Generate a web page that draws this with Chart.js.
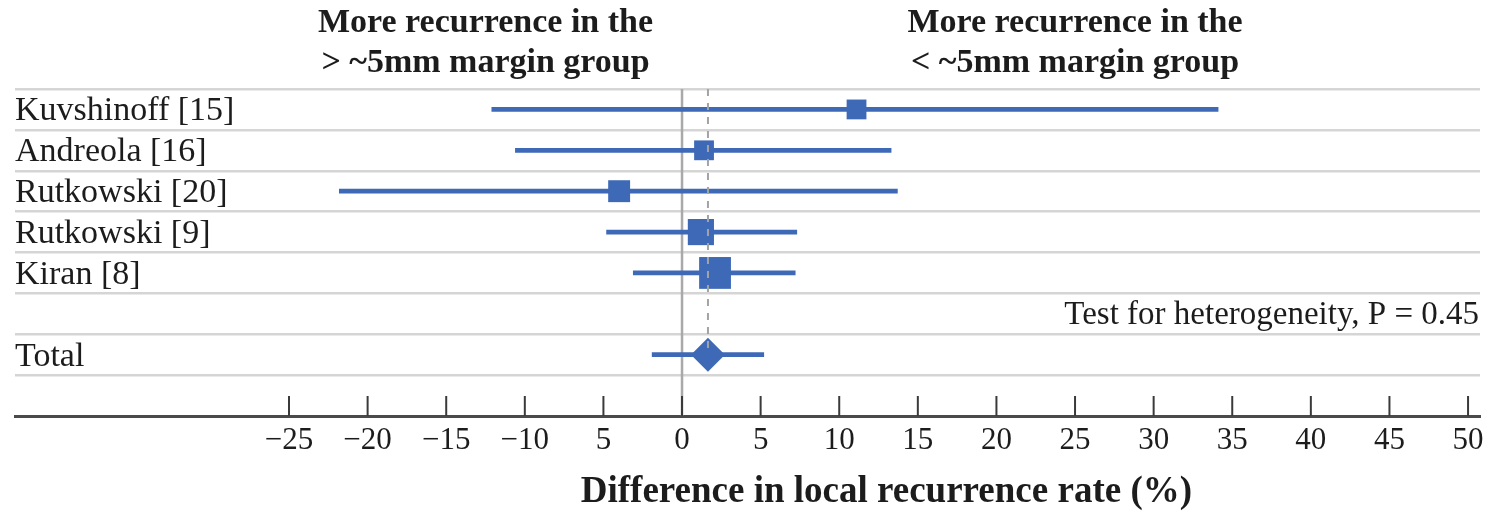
<!DOCTYPE html>
<html>
<head>
<meta charset="utf-8">
<script src="https://cdn.jsdelivr.net/npm/chart.js@4.4.1/dist/chart.umd.min.js"></script>
<style>
  html, body { margin: 0; padding: 0; background: #fff; }
  #wrap { width: 1494px; height: 516px; }
</style>
</head>
<body>
<div id="wrap"><canvas id="forest"></canvas></div>
<script>
// rows of the forest plot, top to bottom (last row left blank above the axis)
const row_labels = ["Kuvshinoff [15]", "Andreola [16]", "Rutkowski [20]", "Rutkowski [9]", "Kiran [8]", "", "Total", " "];
const note_labels = ["", "", "", "", "", "Test for heterogeneity, P = 0.45", "", ""];

// difference in local recurrence rate (%)
const estimates = [11.1, 1.4, -4.0, 1.2, 2.1, null, 1.65, null];
const ci_low    = [-12.1, -10.6, -21.8, -4.8, -3.1, null, -1.9, null];
const ci_high   = [34.1, 13.3, 13.7, 7.3, 7.2, null, 5.2, null];

const tick_values = [-25, -20, -15, -10, -5, 0, 5, 10, 15, 20, 25, 30, 35, 40, 45, 50];
const tick_labels = ["\u221225", "\u221220", "\u221215", "\u221210", "5", "0", "5", "10", "15", "20", "25", "30", "35", "40", "45", "50"];

const pooled = estimates[6];

const blue = "#3d69b6";
const serif = "'Liberation Serif', 'Times New Roman', serif";
const text_colour = "#1c1c1c";

// zero line behind the marks, dashed pooled line + upward ticks + headings on top
const forestExtras = {
  id: "forestExtras",
  beforeDatasetsDraw(chart) {
    const {ctx, chartArea, scales: {x}} = chart;
    const x0 = x.getPixelForValue(0);
    ctx.save();
    ctx.strokeStyle = "#a9a9a9";
    ctx.lineWidth = 2.5;
    ctx.beginPath();
    ctx.moveTo(x0, chartArea.top);
    ctx.lineTo(x0, chartArea.bottom);
    ctx.stroke();
    ctx.restore();
  },
  afterDraw(chart) {
    const {ctx, chartArea, scales: {x, y}} = chart;
    ctx.save();

    // dashed line at the pooled estimate
    const xp = x.getPixelForValue(pooled);
    ctx.strokeStyle = "#a3a3a3";
    ctx.lineWidth = 2;
    ctx.setLineDash([7, 7]);
    ctx.beginPath();
    ctx.moveTo(xp, chartArea.top);
    ctx.lineTo(xp, y.getPixelForValue(6));
    ctx.stroke();
    ctx.setLineDash([]);

    // tick marks pointing up from the axis
    ctx.strokeStyle = "#3a3a3a";
    ctx.lineWidth = 2;
    tick_values.forEach(v => {
      const px = x.getPixelForValue(v);
      ctx.beginPath();
      ctx.moveTo(px, chartArea.bottom);
      ctx.lineTo(px, chartArea.bottom - 20);
      ctx.stroke();
    });

    // group headings
    ctx.fillStyle = text_colour;
    ctx.font = "bold 34px " + serif;
    ctx.textAlign = "center";
    ctx.textBaseline = "middle";
    const left_c = x.getPixelForValue(-12.5);
    const right_c = x.getPixelForValue(25);
    ctx.fillText("More recurrence in the", left_c, 23);
    ctx.fillText("> ~5mm margin group", left_c, 63);
    ctx.fillText("More recurrence in the", right_c, 23);
    ctx.fillText("< ~5mm margin group", right_c, 63);

    // axis title
    ctx.font = "bold 37px " + serif;
    ctx.fillText("Difference in local recurrence rate (%)", x.getPixelForValue(13), 492);
    ctx.restore();
  }
};

const ci_bars = row_labels.map((_, i) => ci_low[i] == null ? null : [ci_low[i], ci_high[i]]);

new Chart(document.getElementById("forest"), {
  type: "bar",
  data: {
    labels: row_labels,
    datasets: [
      {
        label: "95% CI",
        data: ci_bars,
        backgroundColor: blue,
        borderWidth: 0,
        barThickness: 4,
        order: 2
      },
      {
        type: "line",
        label: "Estimate",
        data: estimates,
        showLine: false,
        pointStyle: ["rect", "rect", "rect", "rect", "rect", "rect", "rectRot", "rect"],
        pointRadius: [14, 14, 15.5, 18.5, 22.5, 0, 17, 0],
        pointBackgroundColor: blue,
        pointBorderWidth: 0,
        order: 1
      }
    ]
  },
  options: {
    indexAxis: "y",
    responsive: true,
    maintainAspectRatio: false,
    animation: false,
    events: [],
    layout: { padding: { top: 89, left: 15, right: 14, bottom: 0 } },
    plugins: {
      legend: { display: false },
      tooltip: { enabled: false }
    },
    scales: {
      x: {
        type: "linear",
        position: "bottom",
        min: -42.43,
        max: 50.76,
        afterBuildTicks: (scale) => {
          scale.ticks = tick_values.map(v => ({ value: v }));
        },
        afterFit: (scale) => { scale.height = 100; },
        grid: { drawOnChartArea: false, drawTicks: false },
        border: { display: true, color: "#4a4a4a", width: 3 },
        ticks: {
          autoSkip: false,
          maxRotation: 0,
          padding: 6,
          color: text_colour,
          font: { family: serif, size: 31 },
          callback: (value, index) => tick_labels[index]
        }
      },
      y: {
        type: "category",
        position: "left",
        offset: true,
        afterFit: (scale) => { scale.width = 0; },
        grid: {
          offset: true,
          drawTicks: false,
          lineWidth: 2.5,
          color: (ctx) => ctx.index === row_labels.length ? "rgba(0,0,0,0)" : "#d5d5d5"
        },
        border: { display: false },
        ticks: {
          autoSkip: false,
          mirror: true,
          padding: 0,
          labelOffset: 2,
          color: text_colour,
          font: { family: serif, size: 34 }
        }
      },
      y2: {
        type: "category",
        position: "right",
        labels: note_labels,
        offset: true,
        afterFit: (scale) => { scale.width = 0; },
        grid: { display: false },
        border: { display: false },
        ticks: {
          autoSkip: false,
          mirror: true,
          padding: -1,
          labelOffset: 2,
          color: text_colour,
          font: { family: serif, size: 33 }
        }
      }
    }
  },
  plugins: [forestExtras]
});
</script>
</body>
</html>
